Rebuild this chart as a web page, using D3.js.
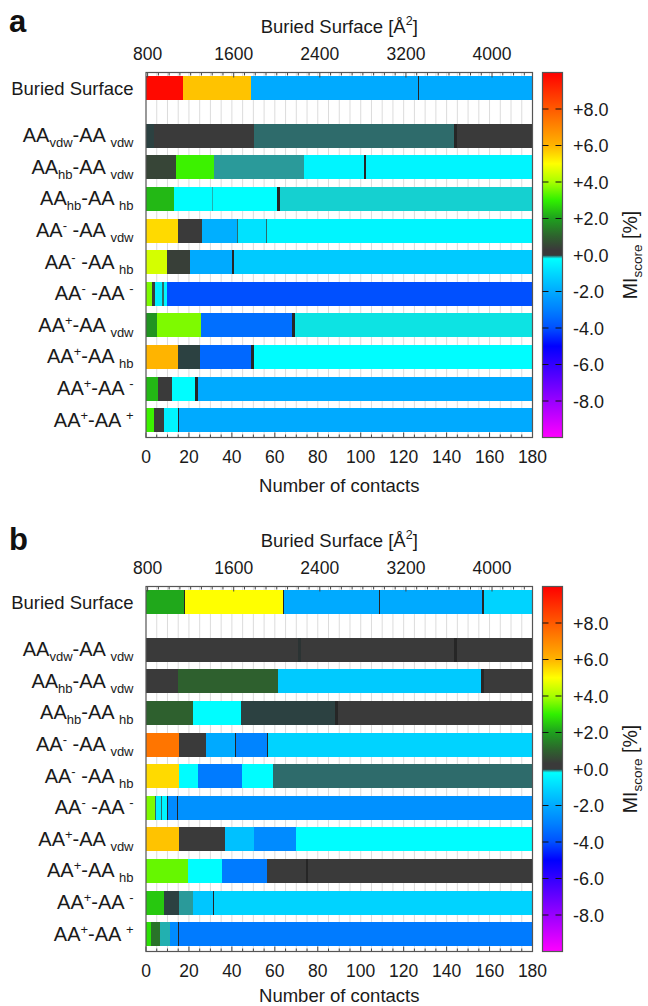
<!DOCTYPE html>
<html>
<head>
<meta charset="utf-8">
<script src="https://cdn.jsdelivr.net/npm/d3@7"></script>
<style>
  html, body { margin: 0; padding: 0; background: #fff; }
  svg { display: block; font-family: "Liberation Sans", Arial, sans-serif; }
</style>
</head>
<body>
<svg id="chart" width="648" height="1006"></svg>
<script>
// ---- row labels (text parts: plain / sub / sup) ----
const rowLabels = [
  [["Buried Surface"]],
  [["AA"], ["vdw", "sub"], ["-AA "], ["vdw", "sub"]],
  [["AA"], ["hb", "sub"], ["-AA "], ["vdw", "sub"]],
  [["AA"], ["hb", "sub"], ["-AA "], ["hb", "sub"]],
  [["AA"], ["-", "sup"], [" -AA "], ["vdw", "sub"]],
  [["AA"], ["-", "sup"], [" -AA "], ["hb", "sub"]],
  [["AA"], ["-", "sup"], [" -AA "], ["-", "sup"]],
  [["AA"], ["+", "sup"], ["-AA "], ["vdw", "sub"]],
  [["AA"], ["+", "sup"], ["-AA "], ["hb", "sub"]],
  [["AA"], ["+", "sup"], ["-AA "], ["-", "sup"]],
  [["AA"], ["+", "sup"], ["-AA "], ["+", "sup"]]
];

// ---- axis ticks ----
const contactTicks = [0, 20, 40, 60, 80, 100, 120, 140, 160, 180];
const surfaceTicks = [800, 1600, 2400, 3200, 4000];
const scoreTicks = [-8, -6, -4, -2, 0, 2, 4, 6, 8];
const surfaceDomain = [785, 4376];
const contactDomain = [0, 180];
const scoreDomain = [-10, 10];

// ---- MI score palette ----
const paletteStops = [-10, -8, -6, -5, -4, -3, -2, -1, -0.2, -0.15, -0.1, -0.05, -0.01, 0, 0.02, 0.3, 1, 2, 3, 4, 5, 6, 8, 10];
const paletteColors = ["#ff00ff", "#9900ff", "#3300ff", "#0000ff", "#0050ff", "#0080ff", "#00aaff", "#00d8ff",
  "#00ffff", "#15d0d0", "#2a9a9a", "#2e6b6b", "#2b3333", "#262626", "#3a3a3a", "#3a3a3a", "#2e602e",
  "#1ea01e", "#30f000", "#a8ff00", "#ffff00", "#ffb400", "#ff5a00", "#ff0000"];

// ---- panel a: buried surface bins (Å²) and MI scores ----
const surfaceEdgesA = [785, 1127, 1760, 3312, 3324, 4376];
const surfaceScoresA = [9.8, 5.8, -2, 0, -2];

// ---- panel a: contact bins (number of contacts) and MI scores ----
const contactEdgesA = [
  [0, 3.5, 50.2, 143.6, 144.9, 180],
  [0, 14.0, 31.9, 73.5, 101.5, 102.3, 180],
  [0, 12.9, 30.6, 31.2, 61.1, 62.4, 180],
  [0, 14.9, 26.3, 42.2, 42.8, 55.7, 56.3, 180],
  [0, 9.8, 20.3, 40.0, 41.1, 180],
  [0, 2.8, 4.0, 7.6, 8.2, 9.8, 180],
  [0, 5.1, 25.8, 68.0, 69.3, 180],
  [0, 14.9, 25.0, 49.0, 50.3, 180],
  [0, 5.6, 12.1, 23.0, 24.3, 180],
  [0, 3.6, 8.2, 11.0, 11.4, 14.9, 15.4, 180]
];
const contactScoresA = [
  [-0.02, 0.1, -0.05, 0, 0.1],
  [0.5, 3.1, -0.1, -0.4, 0, -0.4],
  [2.3, -0.25, -0.12, -0.22, 0, -0.15],
  [5.5, 0.1, -1.9, -0.05, -0.8, -0.05, -0.4],
  [4.5, 0.4, -2, 0, -1.3],
  [3.65, 0.1, -0.55, -0.05, -0.4, -4],
  [1.8, 3.65, -3.35, 0, -0.17],
  [6.0, -0.02, -3.5, 0, -0.25],
  [2.3, 0.1, -0.25, 0, -2],
  [3.1, 0.1, -0.55, 0, -0.4, 0, -2]
];

// ---- panel b: buried surface bins (Å²) and MI scores ----
const surfaceEdgesB = [785, 1138, 1148, 2055, 2065, 2947, 2958, 3911, 3922, 4376];
const surfaceScoresB = [2.1, 0, 5.0, 0, -2, 0, -2, 0, -1.1];

// ---- panel b: contact bins and MI scores ----
const contactEdgesB = [
  [0, 71.0, 72.3, 143.6, 144.9, 180],
  [0, 14.7, 61.7, 156.0, 157.2, 180],
  [0, 21.7, 44.4, 88.0, 89.3, 180],
  [0, 15.4, 27.8, 41.3, 41.8, 56.4, 56.9, 180],
  [0, 15.5, 24.2, 44.8, 59.2, 180],
  [0, 4.3, 4.8, 7.1, 7.5, 9.8, 10.2, 14.3, 14.8, 180],
  [0, 15.2, 36.7, 50.5, 69.9, 180],
  [0, 19.4, 35.4, 56.4, 74.3, 75.4, 180],
  [0, 8.5, 15.5, 21.8, 31.0, 31.5, 180],
  [0, 2.1, 6.5, 11.1, 15.0, 15.5, 180]
];
const contactScoresB = [
  [0.1, -0.01, 0.1, 0, 0.1],
  [0.05, 1.0, -1.3, 0, 0.1],
  [1.0, -0.25, -0.02, 0, 0.1],
  [7.4, 0.1, -2, 0, -2.9, 0, -1.1],
  [5.5, -0.25, -3.1, -0.25, -0.05],
  [3.65, -0.05, -0.55, -0.05, -0.4, 0, -2.75, 0, -2.6],
  [5.8, 0.1, -1.5, -2.75, -0.25],
  [3.45, -0.25, -3.1, 0.1, 0, 0.1],
  [2.5, -0.02, -0.1, -1.4, 0, -1.1],
  [2.8, 1.3, -0.12, -2.75, 0, -3.1]
];

// ---- layout ----
const svg = d3.select("#chart");
const plotLeft = 146, plotRight = 532.5, plotH = 365;
const cbLeft = 542.5, cbW = 20;
const textColor = "#1a1a1a";

const color = d3.scaleLinear().domain(paletteStops).range(paletteColors)
  .interpolate(d3.interpolateRgb).clamp(true);

// color bar gradient shared by both panels
const defs = svg.append("defs");
const grad = defs.append("linearGradient").attr("id", "miGrad")
  .attr("x1", 0).attr("y1", 1).attr("x2", 0).attr("y2", 0);
paletteStops.forEach((s, i) => {
  grad.append("stop")
    .attr("offset", (s - scoreDomain[0]) / (scoreDomain[1] - scoreDomain[0]))
    .attr("stop-color", paletteColors[i]);
});

function drawLabel(sel, parts, subSize) {
  parts.forEach((p, k) => {
    const t = sel.append("tspan").text(p[0]);
    if (p[1] === "sub") {
      t.attr("font-size", subSize).attr("dy", 5);
    } else if (p[1] === "sup") {
      t.attr("font-size", subSize).attr("dy", -7);
    } else {
      const prev = parts[k - 1];
      if (prev && prev[1] === "sub") t.attr("dy", -5);
      if (prev && prev[1] === "sup") t.attr("dy", 7);
    }
  });
}

function drawPanel(top, letter, letterY, xTitleGap, surfEdges, surfScores, edges, scores) {
  const g = svg.append("g");
  const x = d3.scaleLinear().domain(contactDomain).range([plotLeft, plotRight]);
  const xTop = d3.scaleLinear().domain(surfaceDomain).range([plotLeft, plotRight]);
  const y = d3.scaleLinear().domain([-0.5, 11.05]).range([top, top + plotH]);
  const barH = 24;
  const rowPos = rowLabels.map((d, i) => i === 0 ? 0 : i + 0.5);

  // vertical grid
  g.append("g").selectAll("line").data(d3.range(5, 180, 5)).join("line")
    .attr("x1", d => x(d)).attr("x2", d => x(d))
    .attr("y1", top).attr("y2", top + plotH)
    .attr("stroke", "#dcdcdc").attr("stroke-width", 1);

  // buried surface bar (top axis units)
  const surfSegs = surfScores.map((s, j) => ({ a: surfEdges[j], b: surfEdges[j + 1], s }));
  g.append("g").attr("shape-rendering", "crispEdges").selectAll("rect").data(surfSegs).join("rect")
    .attr("x", d => xTop(d.a)).attr("width", d => xTop(d.b) - xTop(d.a))
    .attr("y", y(rowPos[0]) - barH / 2).attr("height", barH)
    .attr("fill", d => color(d.s));

  // contact bars
  edges.forEach((row, i) => {
    const segs = scores[i].map((s, j) => ({ a: row[j], b: row[j + 1], s }));
    g.append("g").attr("shape-rendering", "crispEdges").selectAll("rect").data(segs).join("rect")
      .attr("x", d => x(d.a)).attr("width", d => x(d.b) - x(d.a))
      .attr("y", y(rowPos[i + 1]) - barH / 2).attr("height", barH)
      .attr("fill", d => color(d.s));
  });

  // inner tick marks
  g.append("g").selectAll("line").data(d3.range(0, 181, 5)).join("line")
    .attr("x1", d => x(d)).attr("x2", d => x(d))
    .attr("y1", top + plotH).attr("y2", d => top + plotH - (d % 20 === 0 ? 5 : 3))
    .attr("stroke", "#444").attr("stroke-width", 1);
  g.append("g").selectAll("line").data(d3.range(800, 4376, 100)).join("line")
    .attr("x1", d => xTop(d)).attr("x2", d => xTop(d))
    .attr("y1", top).attr("y2", d => top + (d % 800 === 0 ? 5 : 3))
    .attr("stroke", "#444").attr("stroke-width", 1);

  // frame
  g.append("rect").attr("x", plotLeft).attr("y", top)
    .attr("width", plotRight - plotLeft).attr("height", plotH)
    .attr("fill", "none").attr("stroke", "#555").attr("stroke-width", 1.2);

  // bottom tick labels
  g.append("g").selectAll("text").data(contactTicks).join("text")
    .attr("x", d => x(d)).attr("y", top + plotH + 25)
    .attr("text-anchor", "middle").attr("font-size", 17.5).attr("fill", textColor)
    .text(d => d);
  g.append("text").attr("x", (plotLeft + plotRight) / 2).attr("y", top + plotH + xTitleGap)
    .attr("text-anchor", "middle").attr("font-size", 18.5).attr("fill", textColor)
    .text("Number of contacts");

  // top tick labels
  g.append("g").selectAll("text").data(surfaceTicks).join("text")
    .attr("x", d => xTop(d)).attr("y", top - 12.5)
    .attr("text-anchor", "middle").attr("font-size", 17.5).attr("fill", textColor)
    .text(d => d);
  const tt = g.append("text").attr("x", (plotLeft + plotRight) / 2).attr("y", top - 39.5)
    .attr("text-anchor", "middle").attr("font-size", 18.5).attr("fill", textColor);
  tt.append("tspan").text("Buried Surface [Å");
  tt.append("tspan").text("2").attr("font-size", 12.5).attr("dy", -8);
  tt.append("tspan").text("]").attr("dy", 8);

  // row labels
  rowLabels.forEach((parts, i) => {
    const t = g.append("text").attr("x", 133.5).attr("y", y(rowPos[i]) + (i === 0 ? 7 : 6.5))
      .attr("text-anchor", "end").attr("fill", textColor)
      .attr("font-size", i === 0 ? 18.5 : 20);
    drawLabel(t, parts, 13);
  });

  // panel letter
  g.append("text").attr("x", 9).attr("y", letterY)
    .attr("font-size", 31).attr("font-weight", "bold").attr("fill", "#111")
    .text(letter);

  // color bar
  const cy = d3.scaleLinear().domain(scoreDomain).range([top + plotH, top]);
  g.append("rect").attr("x", cbLeft).attr("y", top).attr("width", cbW).attr("height", plotH)
    .attr("fill", "url(#miGrad)").attr("stroke", "#555").attr("stroke-width", 1.2);
  g.append("g").selectAll("line").data(scoreTicks.filter(d => d !== 0)).join("line")
    .attr("x1", cbLeft).attr("x2", cbLeft + cbW)
    .attr("y1", d => cy(d)).attr("y2", d => cy(d))
    .attr("stroke", "#111").attr("stroke-width", 1.2).attr("stroke-dasharray", "6,7");
  g.append("g").selectAll("text").data(scoreTicks).join("text")
    .attr("x", 573).attr("y", d => cy(d) + 6.5)
    .attr("font-size", 18).attr("fill", textColor)
    .text(d => (d >= 0 ? "+" : "-") + Math.abs(d).toFixed(1));
  const ml = g.append("text")
    .attr("transform", `translate(637,${cy(0)}) rotate(-90)`)
    .attr("text-anchor", "middle").attr("font-size", 19.5).attr("fill", textColor);
  ml.append("tspan").text("MI");
  ml.append("tspan").text("score").attr("font-size", 13.5).attr("dy", 4.5);
  ml.append("tspan").text(" [%]").attr("dy", -4.5);
}

drawPanel(72.5, "a", 31.5, 54, surfaceEdgesA, surfaceScoresA, contactEdgesA, contactScoresA);
drawPanel(586.5, "b", 550, 50.5, surfaceEdgesB, surfaceScoresB, contactEdgesB, contactScoresB);
</script>
</body>
</html>
